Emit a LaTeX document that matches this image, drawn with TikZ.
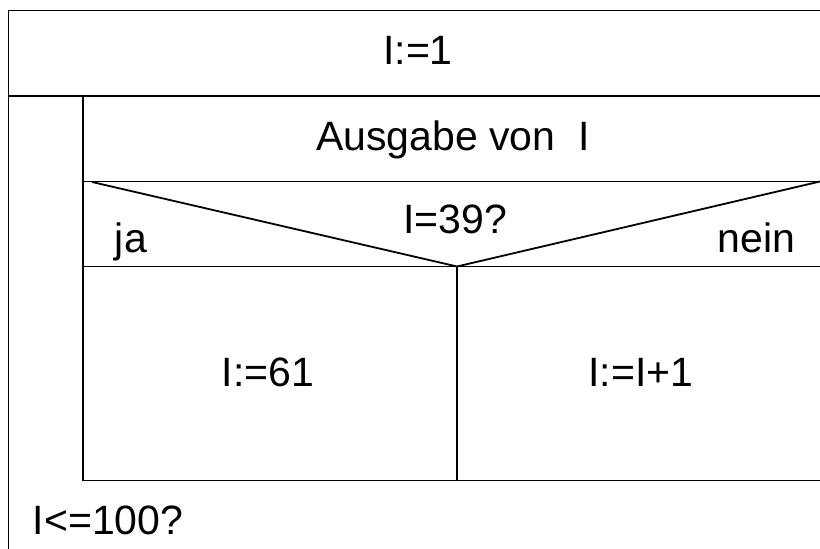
\documentclass[tikz,border=0pt]{standalone}
\usepackage{fontspec}
\setmainfont{Liberation Sans}
\begin{document}
\begin{tikzpicture}[x=0.5pt,y=-0.5pt,line width=0.9pt,
  lbl/.style={font=\fontsize{20.5}{24}\selectfont,inner sep=0pt}]
\useasboundingbox (0,0) rectangle (820,549);
\fill[white] (0,0) rectangle (820,549);
% frame
\draw (820,10.5) -- (8.5,10.5) -- (8.5,549);
\draw (8.5,96) -- (820,96);
\draw (83,96) -- (83,480.5) -- (820,480.5);
\draw (83,181.5) -- (820,181.5);
\draw (83,266.5) -- (820,266.5);
% decision triangle
\coordinate (tl) at (92,182);
\coordinate (tm) at (457,266.5);
\coordinate (tr) at (820,181.5);
\coordinate (bm) at (457,480.5);
\draw (tl) -- (tm) -- (tr);
\draw (tm) -- (bm);
% texts
\node[lbl,anchor=base] (init) at (418,65) {I:=1};
\node[lbl,anchor=base] (out) at (453,151) {Ausgabe von \ I};
\node[lbl,anchor=base] (cond) at (455,234) {I=39?};
\node[lbl,anchor=base west] (ja) at (114,253) {ja};
\node[lbl,anchor=base east] (nein) at (796,253) {nein};
\node[lbl,anchor=base] (yes) at (268,387) {I:=61};
\node[lbl,anchor=base] (no) at (641,387) {I:=I+1};
\node[lbl,anchor=base west] (loop) at (32,535) {I<=100?};
\end{tikzpicture}
\end{document}
